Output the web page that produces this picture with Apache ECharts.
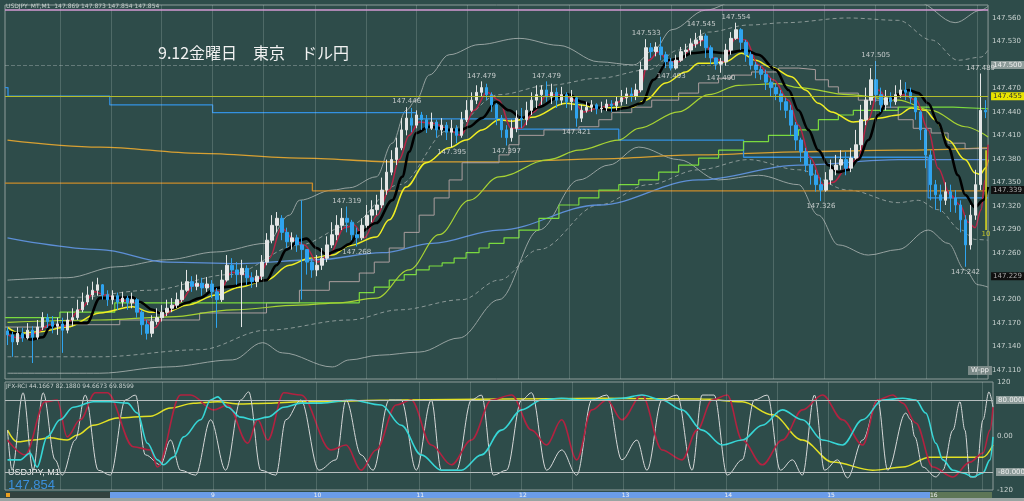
<!DOCTYPE html>
<html><head><meta charset="utf-8">
<script src="https://cdn.jsdelivr.net/npm/echarts@6/dist/echarts.min.js"></script>
<style>html,body{margin:0;padding:0;background:#2e4c4a;}#c{width:1024px;height:501px;}</style>
</head><body><div id="c"></div>
<script>
// ---- price data (USDJPY M1), one entry per bar ----
const firstOpen = 147.160;
const closeP = [147.155,147.146,147.157,147.151,147.161,147.152,147.165,147.177,147.172,147.166,
147.169,147.161,147.174,147.177,147.187,147.197,147.206,147.212,147.219,147.206,
147.200,147.205,147.197,147.202,147.196,147.200,147.184,147.168,147.157,147.172,
147.177,147.184,147.189,147.193,147.200,147.212,147.223,147.217,147.221,147.215,
147.220,147.210,147.200,147.225,147.244,147.238,147.232,147.240,147.228,147.223,
147.230,147.248,147.276,147.295,147.304,147.286,147.274,147.279,147.270,147.264,
147.248,147.238,147.244,147.253,147.270,147.283,147.295,147.304,147.299,147.283,
147.279,147.295,147.308,147.315,147.321,147.340,147.363,147.379,147.394,147.417,
147.432,147.423,147.436,147.430,147.419,147.427,147.417,147.423,147.414,147.419,
147.410,147.430,147.442,147.455,147.465,147.471,147.462,147.449,147.432,147.417,
147.407,147.419,147.432,147.430,147.442,147.455,147.462,147.468,147.459,147.465,
147.455,147.462,147.453,147.458,147.432,147.442,147.446,147.449,147.444,
147.445,147.450,147.448,147.453,147.458,147.463,147.460,147.468,
147.494,147.522,147.517,147.523,147.513,147.504,147.496,147.506,147.517,147.519,
147.527,147.532,147.537,147.522,147.509,147.501,147.504,147.519,147.534,147.545,
147.529,147.513,147.500,147.494,147.488,147.478,147.471,147.463,147.453,147.442,
147.423,147.404,147.389,147.372,147.359,147.347,147.340,147.353,147.366,147.372,
147.379,147.368,147.381,147.398,147.430,147.455,147.481,147.462,147.449,147.458,
147.453,147.462,147.468,147.465,147.458,147.440,147.417,147.385,147.347,147.334,
147.327,147.338,147.330,147.321,147.302,147.270,147.308,147.347,147.442,147.440];
const highP = [147.165,147.159,147.165,147.164,147.170,147.166,147.174,147.184,147.182,147.179,
147.177,147.177,147.184,147.189,147.200,147.209,147.217,147.223,147.228,147.220,
147.212,147.212,147.209,147.210,147.205,147.209,147.202,147.187,147.174,147.180,
147.189,147.193,147.200,147.202,147.209,147.223,147.238,147.230,147.232,147.228,
147.229,147.225,147.215,147.238,147.257,147.253,147.248,147.251,147.244,147.235,
147.238,147.257,147.285,147.308,147.312,147.308,147.292,147.286,147.283,147.327,
147.264,147.253,147.257,147.266,147.281,147.299,147.308,147.317,147.319,147.302,
147.292,147.304,147.321,147.327,147.334,147.356,147.379,147.391,147.407,147.432,
147.446,147.445,147.442,147.440,147.436,147.439,147.430,147.432,147.427,147.430,
147.423,147.440,147.455,147.465,147.474,147.479,147.476,147.465,147.451,147.436,
147.423,147.430,147.442,147.445,147.453,147.465,147.474,147.474,147.479,147.476,
147.471,147.472,147.465,147.468,147.460,147.449,147.453,147.455,147.451,
147.453,147.456,147.455,147.459,147.468,147.471,147.471,147.476,
147.504,147.533,147.528,147.529,147.536,147.517,147.509,147.513,147.523,147.527,
147.534,147.541,147.545,147.540,147.525,147.509,147.509,147.527,147.542,147.554,
147.547,147.532,147.517,147.504,147.499,147.494,147.483,147.476,147.468,147.458,
147.449,147.427,147.407,147.394,147.379,147.366,147.356,147.363,147.379,147.385,
147.391,147.389,147.394,147.417,147.449,147.471,147.496,147.505,147.471,147.468,
147.465,147.474,147.481,147.478,147.471,147.460,147.442,147.419,147.391,147.353,
147.347,147.350,147.347,147.340,147.327,147.308,147.321,147.366,147.489,147.455];
const lowP = [147.142,147.127,147.142,147.146,147.149,147.119,147.149,147.161,147.164,147.157,
147.155,147.132,147.157,147.166,147.174,147.184,147.193,147.200,147.205,147.200,
147.192,147.194,147.187,147.191,147.187,147.189,147.177,147.155,147.149,147.152,
147.168,147.172,147.179,147.184,147.189,147.197,147.210,147.210,147.212,147.205,
147.210,147.202,147.164,147.197,147.223,147.228,147.219,147.165,147.219,147.215,
147.216,147.225,147.244,147.272,147.286,147.276,147.266,147.264,147.261,147.200,
147.232,147.228,147.230,147.238,147.248,147.266,147.276,147.289,147.286,147.276,
147.268,147.276,147.292,147.299,147.308,147.317,147.334,147.359,147.372,147.391,
147.410,147.414,147.419,147.417,147.413,147.417,147.407,147.410,147.404,147.395,
147.400,147.407,147.427,147.440,147.450,147.460,147.455,147.440,147.423,147.407,
147.397,147.402,147.414,147.419,147.423,147.436,147.445,147.449,147.453,147.450,
147.445,147.449,147.445,147.442,147.421,147.427,147.439,147.440,147.437,
147.439,147.441,147.440,147.442,147.448,147.450,147.453,147.455,
147.465,147.494,147.509,147.511,147.506,147.496,147.493,147.494,147.504,147.509,
147.513,147.522,147.524,147.509,147.501,147.494,147.490,147.499,147.513,147.532,
147.519,147.504,147.494,147.483,147.481,147.468,147.460,147.455,147.442,147.432,
147.410,147.391,147.376,147.363,147.347,147.338,147.326,147.338,147.347,147.359,
147.366,147.359,147.363,147.379,147.391,147.423,147.449,147.453,147.440,147.442,
147.445,147.449,147.458,147.455,147.450,147.430,147.404,147.368,147.327,147.315,
147.312,147.321,147.312,147.311,147.286,147.242,147.264,147.302,147.340,147.432];

// bars whose high / low carry a price note
const highLabelBars = [68, 80, 95, 108, 128, 139, 146, 174, 195];
const lowLabelBars = [70, 89, 100, 114, 133, 143, 163, 192];

// ---- indicator lines: [bar, price] ----
const blackMA = [[0,147.159],[2.5,147.157],[4.5,147.149],[7.1,147.152],[8.5,147.165],[11.9,147.170],[15.9,147.170],[18.5,147.202],[20.5,147.202],[25.1,147.203],[26.5,147.197],[29.1,147.187],[30.5,147.183],[33.1,147.189],[35.9,147.196],[38.5,147.202],[41.9,147.215],[45.1,147.217],[47.1,147.220],[51.9,147.225],[53.9,147.244],[55.9,147.264],[58.5,147.276],[59.9,147.278],[61.9,147.266],[63.9,147.258],[66.5,147.264],[68.5,147.271],[70.5,147.286],[73.9,147.298],[77.1,147.327],[79.1,147.357],[80.5,147.389],[81.9,147.413],[84.5,147.421],[88.5,147.417],[90.9,147.417],[92.5,147.421],[95.1,147.432],[97.9,147.453],[100.5,147.442],[103.1,147.432],[106.5,147.446],[110.5,147.459],[112.5,147.462],[115.1,147.453],[117.9,147.446],[121.1,147.442],[123.9,147.445],[127.1,147.451],[129.5,147.481],[132.5,147.506],[134.5,147.508],[137.1,147.515],[140.5,147.517],[143.9,147.515],[147.9,147.519],[150.5,147.513],[153.9,147.494],[156.5,147.468],[158.5,147.442],[160.5,147.417],[162.5,147.391],[164.5,147.372],[166.5,147.363],[168.5,147.366],[170.5,147.379],[172.5,147.404],[174.5,147.436],[176.5,147.455],[178.5,147.462],[180.5,147.468],[182.5,147.464],[184.5,147.451],[186.5,147.426],[188.5,147.395],[190.5,147.359],[191.9,147.334],[193.9,147.318],[195.5,147.327],[196.5,147.344]];
const redMA = [[0,147.155],[2.5,147.151],[5.5,147.157],[8.5,147.168],[11.5,147.166],[14.5,147.187],[17.5,147.210],[19.5,147.206],[22.5,147.200],[25.5,147.196],[27.5,147.174],[29.5,147.164],[31.5,147.180],[34.5,147.197],[37.5,147.219],[40.5,147.217],[42.5,147.210],[44.9,147.235],[47.5,147.232],[50.1,147.225],[52.5,147.253],[54.9,147.292],[57.5,147.276],[59.5,147.270],[62.1,147.248],[64.5,147.257],[67.5,147.292],[69.5,147.295],[71.5,147.279],[74.1,147.308],[76.5,147.340],[78.5,147.379],[80.5,147.410],[82.5,147.427],[85.5,147.425],[88.5,147.417],[90.9,147.410],[93.5,147.442],[96.1,147.465],[98.5,147.455],[100.9,147.419],[102.9,147.419],[105.5,147.440],[108.1,147.462],[110.5,147.462],[112.9,147.458],[115.5,147.440],[118.5,147.445],[121.5,147.450],[124.5,147.460],[126.5,147.465],[128.5,147.506],[130.5,147.517],[132.5,147.504],[134.5,147.504],[137.5,147.525],[139.5,147.532],[141.5,147.509],[143.5,147.504],[145.9,147.534],[147.9,147.532],[150.5,147.500],[153.5,147.481],[156.5,147.455],[158.5,147.423],[160.9,147.381],[163.5,147.347],[165.5,147.350],[168.1,147.368],[170.5,147.381],[172.5,147.430],[174.5,147.468],[176.5,147.455],[179.5,147.462],[182.1,147.455],[184.5,147.417],[186.5,147.368],[188.9,147.334],[190.9,147.321],[192.5,147.299],[193.9,147.292],[195.1,147.315],[195.9,147.353],[196.5,147.398]];
const yellowMA = [[0,147.165],[2.5,147.157],[6.5,147.159],[11.9,147.165],[18.5,147.183],[25.1,147.191],[28.5,147.184],[31.9,147.184],[35.9,147.193],[41.9,147.206],[46.5,147.216],[51.9,147.225],[56.5,147.244],[60.5,147.253],[65.1,147.257],[68.5,147.269],[73.9,147.280],[76.5,147.302],[79.9,147.344],[83.9,147.375],[88.5,147.394],[91.9,147.404],[95.1,147.417],[98.5,147.430],[101.1,147.428],[105.1,147.433],[111.9,147.451],[114.5,147.449],[118.5,147.445],[125.1,147.446],[127.9,147.455],[131.9,147.477],[135.9,147.491],[138.5,147.502],[141.1,147.502],[143.9,147.504],[147.1,147.515],[149.9,147.506],[153.1,147.497],[157.1,147.485],[159.9,147.468],[162.5,147.451],[165.1,147.440],[169.5,147.427],[174.5,147.432],[178.5,147.436],[181.1,147.445],[183.9,147.442],[185.9,147.430],[188.5,147.404],[191.9,147.379],[193.9,147.362],[194.9,147.360],[196.1,147.369],[196.5,147.379]];
const limeMA = [[0,147.171],[18.5,147.174],[32.5,147.178],[45.1,147.187],[58.5,147.193],[66.5,147.196],[73.9,147.202],[80.5,147.238],[86.5,147.283],[92.5,147.327],[98.5,147.357],[108.5,147.379],[114.5,147.391],[122.5,147.404],[126.5,147.419],[134.5,147.440],[140.5,147.462],[146.5,147.474],[154.5,147.476],[158.5,147.471],[168.5,147.462],[178.5,147.455],[185.1,147.442],[191.9,147.421],[196.5,147.408]];
const blueMA = [[0,147.279],[18.5,147.264],[32,147.248],[46.5,147.246],[61.9,147.251],[75.1,147.260],[85.1,147.272],[98.5,147.289],[118.5,147.321],[138.5,147.353],[158.5,147.372],[178.5,147.379],[191.9,147.379],[196.5,147.379]];
const orangeCurve = [[0,147.404],[18.5,147.395],[38.5,147.387],[58.5,147.381],[78.5,147.376],[98.5,147.376],[118.5,147.380],[138.5,147.385],[158.5,147.389],[178.5,147.391],[196.5,147.394]];
const orangeStep = [[-0.5,147.349],[61.1,147.339],[196.5,147.339]];
const blueStep = [[-0.5,147.471],[0.1,147.460],[20.5,147.449],[41.1,147.439],[81.9,147.431],[101.9,147.418],[122.5,147.404],[147.5,147.382],[184.5,147.330],[196.5,147.330]];
const greenStep = [[-0.5,147.177],[10.5,147.184],[21.5,147.196],[70.5,147.209],[73.5,147.216],[76.5,147.225],[79.5,147.232],[81.9,147.238],[84.5,147.243],[87.1,147.247],[89.5,147.253],[91.9,147.260],[94.5,147.266],[96.5,147.272],[99.5,147.279],[102.5,147.289],[106.5,147.304],[110.5,147.321],[114.5,147.330],[118.5,147.340],[122.5,147.347],[126.5,147.353],[130.5,147.363],[134.5,147.372],[138.5,147.381],[142.5,147.391],[147.5,147.402],[152.5,147.410],[158.5,147.417],[162.5,147.430],[166.5,147.436],[169.5,147.442],[178.5,147.446],[189.5,147.444],[196.5,147.444]];
const greyStep = [[-0.5,147.165],[10.5,147.168],[22.5,147.174],[38.5,147.183],[51.9,147.196],[58.5,147.212],[64.5,147.223],[70.5,147.234],[73.5,147.248],[76.5,147.266],[79.5,147.286],[82.5,147.308],[85.5,147.330],[88.5,147.353],[91.1,147.375],[98.5,147.385],[100.5,147.398],[102.5,147.410],[107.5,147.417],[114.5,147.421],[118.5,147.430],[121.1,147.439],[125.1,147.446],[129.1,147.455],[134.5,147.464],[138.5,147.477],[142.5,147.483],[145.1,147.487],[149.1,147.491],[154.5,147.496],[158.5,147.494],[161.9,147.481],[164.5,147.472],[166.5,147.464],[170.5,147.455],[175.1,147.446],[178.5,147.430],[181.5,147.419],[185.1,147.413],[188.5,147.400],[191.9,147.393],[196.5,147.393]];
const bbUpper = [[0,147.225],[11.9,147.228],[21.9,147.242],[31.9,147.251],[41.9,147.261],[51.9,147.272],[56.5,147.308],[58.5,147.327],[65.1,147.340],[68.5,147.343],[73.9,147.357],[77.1,147.400],[79.9,147.442],[81.9,147.455],[84.5,147.487],[88.5,147.513],[94.5,147.526],[102.5,147.534],[110.5,147.525],[118.5,147.504],[125.5,147.500],[129.5,147.519],[133.1,147.545],[139.9,147.570],[146.5,147.583],[158.5,147.586],[170.5,147.583],[178.5,147.583],[182.5,147.580],[189.9,147.554],[195.1,147.570],[196.5,147.575]];
const bbLower = [[0,147.106],[18.5,147.106],[31.9,147.114],[45.1,147.123],[51.1,147.145],[55.1,147.132],[65.1,147.114],[68.5,147.123],[74.5,147.129],[82.5,147.133],[90.5,147.151],[98.5,147.200],[106.5,147.289],[114.5,147.353],[120.5,147.372],[126.5,147.395],[134.5,147.379],[142.5,147.353],[150.5,147.359],[158.5,147.347],[162.5,147.308],[166.5,147.270],[172.5,147.257],[178.5,147.264],[184.5,147.289],[188.5,147.272],[191.9,147.238],[194.5,147.219],[196.5,147.216]];
const bbUpperDash = [[0,147.203],[13.5,147.203],[28.5,147.212],[44.5,147.232],[58.5,147.270],[68.5,147.295],[78.5,147.347],[88.5,147.417],[98.5,147.462],[108.5,147.474],[118.5,147.483],[128.5,147.494],[134.5,147.519],[140.5,147.542],[148.5,147.551],[155.9,147.554],[168.5,147.560],[178.5,147.557],[185.1,147.532],[190.5,147.506],[195.1,147.510],[196.5,147.519]];
const bbLowerDash = [[0,147.127],[18.5,147.127],[38.5,147.136],[51.9,147.161],[68.5,147.174],[78.5,147.187],[91.1,147.200],[98.5,147.225],[106.5,147.264],[118.5,147.321],[128.5,147.347],[138.5,147.366],[148.5,147.379],[158.5,147.366],[168.5,147.340],[178.5,147.324],[182.5,147.327],[186.5,147.315],[191.1,147.289],[193.9,147.277],[196.5,147.276]];
const markerBar = [[196.1,147.391],[196.1,147.289]];

// ---- RCI pane: [bar, value] ----
const rciWhite = [[0,13],[0.9,-76],[3.1,96],[5.1,-76],[7.1,96],[9.5,-53],[10.9,-87],[13.5,-9],[15.5,91],[18.1,-76],[20.5,-87],[23.5,80],[25.5,91],[27.5,-42],[30.5,-64],[32.5,-9],[34.5,-76],[37.5,-87],[40.5,36],[43.5,-76],[46.5,80],[48.1,98],[50.5,-76],[53.5,-87],[55.5,36],[58.5,80],[62.1,-76],[65.5,-53],[67.5,80],[70.5,-42],[72.9,-76],[76.1,80],[78.5,80],[81.5,-76],[84.5,80],[86.5,-76],[89.5,-76],[92.5,80],[94.5,91],[96.9,-87],[99.5,-76],[102.5,80],[104.5,96],[107.5,-76],[110.5,-31],[113.5,-87],[116.5,80],[119.5,91],[122.5,-53],[125.5,-9],[127.5,-76],[130.5,80],[133.5,91],[136.5,-76],[138.5,91],[140.9,91],[143.5,-87],[146.5,-53],[148.9,80],[151.5,91],[154.1,-76],[156.5,-53],[158.5,-87],[160.9,91],[162.9,-76],[165.5,-53],[167.5,-93],[170.5,-9],[173.5,80],[175.5,-76],[179.1,51],[180.1,36],[180.9,-2],[182.5,-69],[185.1,-91],[186.5,-76],[188.5,13],[189.9,76],[190.9,13],[191.9,-91],[193.1,-91],[194.5,36],[195.7,98],[196.5,64]];
const rciRed = [[0,-9],[3.5,-42],[7.5,76],[9.9,80],[11.9,-2],[14.5,36],[17.5,96],[19.9,96],[25.1,-24],[28.5,-31],[29.9,-69],[34.5,91],[36.5,91],[41.1,58],[43.9,69],[47.9,-16],[49.9,36],[51.9,-9],[55.1,96],[58.5,91],[64.5,-31],[67.5,-20],[70.5,-76],[73.5,-31],[77.5,69],[80.5,80],[84.5,-20],[88.5,-64],[92.5,-9],[96.5,80],[100.5,91],[104.5,13],[107.5,-20],[110.5,36],[113.5,-53],[116.5,58],[119.5,80],[122.5,36],[126.5,91],[130.5,-31],[134.5,-53],[137.5,13],[140.5,80],[143.5,91],[146.5,-9],[150.5,-64],[154.5,-9],[158.5,58],[162.5,91],[166.5,36],[170.5,-20],[173.5,80],[176.5,91],[178.5,73],[181.1,29],[184.5,-69],[188.5,-91],[191.9,-58],[194.5,-38],[195.9,13],[196.5,64]];
const rciCyan = [[0,-53],[2.5,-53],[4.5,-38],[5.9,-69],[7.9,-2],[10.5,36],[13.1,64],[17.1,76],[20.5,76],[23.9,73],[25.9,51],[27.9,-16],[29.9,-53],[31.1,-64],[33.1,-47],[35.1,-2],[38.5,36],[40.5,80],[41.9,87],[43.9,64],[46.5,42],[49.1,36],[51.9,42],[55.1,64],[58.5,73],[62.5,73],[68.5,80],[74.5,69],[78.5,24],[82.5,-42],[86.5,-76],[90.5,-76],[94.5,-42],[98.5,13],[102.5,58],[106.5,80],[110.5,84],[114.5,80],[118.5,80],[122.5,84],[126.5,91],[130.5,80],[134.5,58],[138.5,13],[142.5,-20],[146.5,-9],[150.5,24],[154.5,58],[158.5,36],[162.5,-9],[166.5,-20],[170.5,36],[174.5,80],[178.5,84],[181.1,80],[183.1,51],[185.1,-16],[186.5,-53],[188.5,-76],[190.5,-82],[192.5,-91],[194.5,-82],[195.9,-53],[196.5,-2]];
const rciYellow = [[0,13],[1.9,-13],[5.1,-9],[8.5,-4],[11.9,-9],[13.9,2],[17.1,24],[21.9,40],[28.5,44],[32.5,62],[37.1,73],[41.9,76],[46.5,71],[51.9,73],[58.5,76],[78.5,80],[98.5,82],[118.5,84],[138.5,82],[146.5,76],[152.5,47],[158.5,-9],[164.5,-58],[172.5,-76],[178.5,-69],[183.9,-47],[194.5,-47],[196.5,-20]];

// ---- axis labels ----
const priceTicks = [147.110,147.140,147.170,147.200,147.260,147.290,147.320,147.350,147.380,147.410,147.440,147.470,147.530,147.560];
const rciTicks = [-120, 0, 120];
const timeGridBars = [10.5,20.7,30.9,41.1,51.3,61.6,71.8,82.0,92.2,102.4,112.6,122.8,133.0,143.3,153.5,163.7,173.9,184.1,194.3];
const hourLabels = ['9','10','11','12','13','14','15','16'];

// ---- build ----
const N = closeP.length;
const openP = [firstOpen].concat(closeP.slice(0, N - 1));
const ohlc = closeP.map((c, i) => [openP[i], c, lowP[i], highP[i]]);
const cats = closeP.map((_, i) => i);
const FONT = 'DejaVu Sans';

function ln(data, color, width, extra) {
  return Object.assign({
    type: 'line', xAxisIndex: 1, yAxisIndex: 0, data: data, symbol: 'none', silent: true,
    smooth: 0.35, smoothMonotone: 'x', lineStyle: { color: color, width: width }, z: 3
  }, extra || {});
}
function rln(data, color, width, extra) {
  return Object.assign(ln(data, color, width), { xAxisIndex: 2, yAxisIndex: 1 }, extra || {});
}
const boxLabel = (txt, bg, fg) => ({ show: true, position: 'end', distance: 3, formatter: txt, backgroundColor: bg, color: fg, padding: [1, 2, 0, 2], fontSize: 7, fontFamily: FONT });

const option = {
  animation: false,
  backgroundColor: '#2e4c4a',
  grid: [
    { left: 5, right: 31, top: 5, height: 374, show: true, borderColor: '#8e9c9a', borderWidth: 1, backgroundColor: 'transparent' },
    { left: 5, right: 31, top: 382, height: 108, show: true, borderColor: '#8e9c9a', borderWidth: 1, backgroundColor: 'transparent' }
  ],
  xAxis: [
    { type: 'category', gridIndex: 0, data: cats, show: false },
    { type: 'value', gridIndex: 0, min: -0.5, max: N - 0.5, show: false },
    { type: 'value', gridIndex: 1, min: -0.5, max: N - 0.5, show: false }
  ],
  yAxis: [
    { type: 'value', gridIndex: 0, position: 'right', min: 147.0986, max: 147.5766,
      axisLine: { show: false }, axisTick: { show: false }, splitLine: { show: false },
      axisLabel: { customValues: priceTicks, formatter: v => v.toFixed(3), color: '#c9d2d0', fontSize: 7, margin: 4, fontFamily: FONT } },
    { type: 'value', gridIndex: 1, position: 'right', min: -120, max: 120,
      axisLine: { show: false }, axisTick: { show: false }, splitLine: { show: false },
      axisLabel: { customValues: rciTicks, formatter: v => v === 0 ? '0.00' : String(v), color: '#c9d2d0', fontSize: 7, margin: 4, fontFamily: FONT } }
  ],
  series: [
    ln(bbLower, '#96a2a0', 1, { markLine: { silent: true, symbol: ['none', 'none'], label: { show: false },
      lineStyle: { color: 'rgba(200,212,210,0.22)', width: 1, type: 'solid' },
      data: timeGridBars.map(v => ({ xAxis: v })) } }),
    ln(bbUpper, '#96a2a0', 1, { markLine: { silent: true, symbol: ['none', 'none'], data: [
      { yAxis: 147.566, lineStyle: { color: '#d49ad4', width: 1.5, type: 'solid' }, label: { show: false } },
      { yAxis: 147.500, lineStyle: { color: 'rgba(200,210,210,0.35)', width: 1, type: 'dashed' }, label: boxLabel('147.500', '#8d9c9a', '#eeeeee') },
      { yAxis: 147.455, lineStyle: { color: '#b4bc2c', width: 1, type: 'solid' }, label: boxLabel('147.455', '#e8e400', '#333333') },
      { yAxis: 147.339, lineStyle: { color: 'rgba(0,0,0,0)', width: 0 }, label: boxLabel('147.339', '#101010', '#a8a8a8') },
      { yAxis: 147.229, lineStyle: { color: 'rgba(0,0,0,0)', width: 0 }, label: boxLabel('147.229', '#101010', '#a8a8a8') }
    ] } }),
    ln(bbUpperDash, '#8a9896', 1, { lineStyle: { color: '#8a9896', width: 1, type: [4, 3] } }),
    ln(bbLowerDash, '#8a9896', 1, { lineStyle: { color: '#8a9896', width: 1, type: [4, 3] } }),
    ln(blueMA, '#5d8fd6', 1.3),
    ln(orangeCurve, '#d8a032', 1.3),
    ln(orangeStep, '#c98a2a', 1.3, { smooth: false, step: 'end' }),
    ln(blueStep, '#3391e2', 1.3, { smooth: false, step: 'end' }),
    {
      type: 'candlestick', xAxisIndex: 0, yAxisIndex: 0, data: ohlc, barWidth: 3, silent: true, z: 3,
      itemStyle: { color: '#e4e6e6', color0: '#2fa4ef', borderColor: '#e4e6e6', borderColor0: '#2fa4ef', borderWidth: 1 }
    },
    ln(greyStep, '#ab9e9e', 1, { smooth: false, step: 'end' }),
    ln(greenStep, '#7ada3e', 1.2, { smooth: false, step: 'end' }),
    ln(limeMA, '#a6d233', 1.2),
    ln(yellowMA, '#f0ee22', 1.5),
    ln(redMA, '#b82446', 1.5),
    ln(blackMA, '#000000', 2.6),
    ln(markerBar, '#e4e020', 1.5, { smooth: false }),
    { type: 'scatter', xAxisIndex: 1, yAxisIndex: 0, symbolSize: 0, silent: true, z: 10,
      data: highLabelBars.map(i => [i, highP[i]]),
      label: { show: true, position: 'top', distance: 2, formatter: p => p.value[1].toFixed(3), color: '#e6e6e6', fontSize: 7, fontFamily: FONT } },
    { type: 'scatter', xAxisIndex: 1, yAxisIndex: 0, symbolSize: 0, silent: true, z: 10,
      data: lowLabelBars.map(i => [i, lowP[i]]),
      label: { show: true, position: 'bottom', distance: 2, formatter: p => p.value[1].toFixed(3), color: '#e6e6e6', fontSize: 7, fontFamily: FONT } },
    { type: 'scatter', xAxisIndex: 1, yAxisIndex: 0, symbolSize: 0, silent: true, z: 10,
      data: [markerBar[1]],
      label: { show: true, position: 'bottom', distance: 1, formatter: '10', color: '#e4e020', fontSize: 7, fontFamily: FONT } },

    // RCI pane
    rln(rciYellow, '#e2e024', 1.5, { markLine: { silent: true, symbol: ['none', 'none'], label: { show: false },
      lineStyle: { color: 'rgba(200,212,210,0.22)', width: 1, type: 'solid' },
      data: timeGridBars.map(v => ({ xAxis: v })) } }),
    rln(rciWhite, '#d6d8d8', 1, { markLine: { silent: true, symbol: ['none', 'none'],
      lineStyle: { color: '#b6bebe', width: 1, type: 'solid' },
      data: [
        { yAxis: 80, label: boxLabel('80.0000', '#8d9c9a', '#eeeeee') },
        { yAxis: -80, label: boxLabel('-80.0000', '#8d9c9a', '#eeeeee') }
      ] } }),
    rln(rciRed, '#b22240', 1.6),
    rln(rciCyan, '#36d6d6', 1.6)
  ],
  graphic: [
    { type: 'text', left: 6, top: 3, silent: true, style: { text: 'USDJPY_MT,M1  147.869 147.873 147.854 147.854', fill: '#c8d0ce', fontSize: 6, fontFamily: FONT } },
    { type: 'text', left: 158, top: 45, silent: true, style: { text: '9.12金曜日　東京　ドル円', fill: '#f2f2f2', fontSize: 16, fontFamily: 'Noto Sans CJK JP' } },
    { type: 'text', left: 968, top: 366, silent: true, style: { text: 'W-pp', fill: '#eeeeee', fontSize: 7, fontFamily: FONT, backgroundColor: '#7b8a88', padding: [1, 3] } },
    { type: 'text', left: 6, top: 383, silent: true, style: { text: 'JFX-RCI 44.1667 82.1880 94.6673 69.8599', fill: '#c8d0ce', fontSize: 6, fontFamily: FONT } },
    { type: 'text', left: 8, top: 468, silent: true, style: { text: 'USDJPY, M1', fill: '#eeeeee', fontSize: 9, fontFamily: 'Liberation Sans' } },
    { type: 'text', left: 8, top: 479, silent: true, style: { text: '147.854', fill: '#3b8fdc', fontSize: 13, fontFamily: 'Liberation Sans' } },
    { type: 'rect', silent: true, shape: { x: 5, y: 492, width: 105, height: 6 }, style: { fill: '#33423f' } },
    { type: 'rect', silent: true, shape: { x: 6, y: 493, width: 4, height: 4 }, style: { fill: '#e8a020' } },
    { type: 'rect', silent: true, shape: { x: 110, y: 492, width: 820, height: 6 }, style: { fill: '#6a9ce8' } },
    { type: 'rect', silent: true, shape: { x: 930, y: 492, width: 62, height: 6 }, style: { fill: '#5e7656' } },
    { type: 'rect', silent: true, shape: { x: 0, y: 498, width: 1024, height: 3 }, style: { fill: '#9aa4a2' } }
  ].concat(hourLabels.map((t, k) => ({
    type: 'text', left: 211 + k * 102.7, top: 492, silent: true,
    style: { text: t, fill: '#f0f0f0', fontSize: 6, fontFamily: FONT }
  })))
};
const chart = echarts.init(document.getElementById('c'), null, { renderer: 'canvas' });
chart.setOption(option);
</script></body></html>
